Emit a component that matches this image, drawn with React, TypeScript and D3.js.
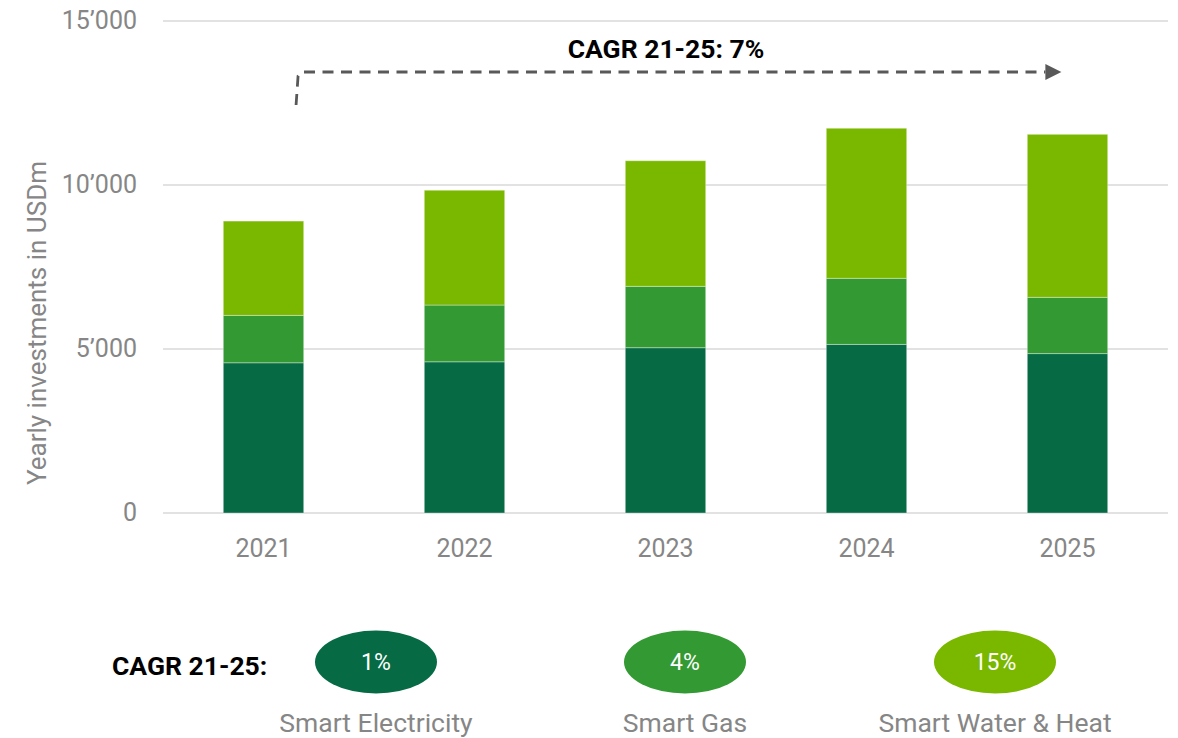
import React from "react";
import * as d3 from "d3";

const years = ["2021", "2022", "2023", "2024", "2025"];
const seriesNames = ["Smart Electricity", "Smart Gas", "Smart Water & Heat"];
const electricity = [4580, 4610, 5040, 5140, 4860];
const gas = [1445, 1730, 1870, 2015, 1715];
const waterHeat = [2875, 3500, 3830, 4575, 4970];
const seriesCagr = ["1%", "4%", "15%"];
const yTicks = [0, 5000, 10000, 15000];
const colors = ["#066b45", "#339933", "#7ab800"];
const totalCagr = "CAGR 21-25: 7%";

const width = 1178;
const height = 738;
const margin = { top: 21, right: 10, bottom: 225, left: 163 };

const fmt = (v: number) => (v >= 1000 ? `${Math.floor(v / 1000)}’${String(v % 1000).padStart(3, "0")}` : String(v));

export default function App() {
  const table = years.map((y, i) => ({
    year: y,
    e: electricity[i],
    g: gas[i],
    w: waterHeat[i],
  }));
  const stack = d3.stack<any>().keys(["e", "g", "w"])(table);

  const x = d3
    .scaleBand()
    .domain(years)
    .range([margin.left, width - margin.right])
    .paddingInner(0.6)
    .paddingOuter(0.3);

  const y = d3
    .scaleLinear()
    .domain([0, 15000])
    .range([height - margin.bottom, margin.top]);

  const grey = "#868686";
  const font = "Roboto, 'Noto Sans', sans-serif";

  // dashed arrow from above 2021 over to 2025
  const bw = x.bandwidth();
  const ax0 = (x("2021") ?? 0) + bw * 0.93;
  const ax1 = (x("2025") ?? 0) + bw * 0.225;
  const ay = 72;

  const legendX = [376, 685, 995];

  return (
    <svg
      width={width}
      height={height}
      style={{ position: "absolute", left: 0, top: 0, fontFamily: font }}
    >
      <rect width={width} height={height} fill="#fff" />
      {yTicks.map((t) => (
        <g key={t}>
          <line
            x1={margin.left}
            x2={width - margin.right}
            y1={y(t)}
            y2={y(t)}
            stroke="#d9d9d9"
            strokeWidth={1.5}
          />
          <text x={137} y={y(t) + 8} textAnchor="end" fontSize={25} fill={grey}>
            {fmt(t)}
          </text>
        </g>
      ))}
      <text
        transform={`translate(46, 323) rotate(-90)`}
        textAnchor="middle"
        fontSize={26}
        fill={grey}
      >
        Yearly investments in USDm
      </text>

      {stack.map((layer, si) => (
        <g key={si} fill={colors[si]}>
          {layer.map((d, i) => (
            <rect
              key={i}
              x={x(years[i])}
              y={y(d[1])}
              width={bw}
              height={y(d[0]) - y(d[1])}
              stroke="#ffffff"
              strokeOpacity={0.35}
              strokeWidth={1}
            />
          ))}
        </g>
      ))}

      {years.map((yr) => (
        <text
          key={yr}
          x={(x(yr) ?? 0) + bw / 2}
          y={557}
          textAnchor="middle"
          fontSize={25}
          fill={grey}
        >
          {yr}
        </text>
      ))}

      <path
        d={`M${ax0 - 2},105 L${ax0},${ay + 4} L${ax0 + 3},${ay} L${ax1},${ay}`}
        fill="none"
        stroke="#595959"
        strokeWidth={2.8}
        strokeDasharray="11,7.5"
      />
      <path d={`M${ax1},${ay - 8} L${ax1 + 16},${ay} L${ax1},${ay + 8} Z`} fill="#595959" />
      <text x={666} y={58} textAnchor="middle" fontSize={26.5} fontWeight="bold" fill="#000">
        {totalCagr}
      </text>

      <text x={112} y={675} fontSize={26.5} fontWeight="bold" fill="#000">
        CAGR 21-25:
      </text>
      {seriesNames.map((name, i) => (
        <g key={name}>
          <ellipse cx={legendX[i]} cy={662} rx={61} ry={31.5} fill={colors[i]} />
          <text x={legendX[i]} y={670} textAnchor="middle" fontSize={23} fill="#fff">
            {seriesCagr[i]}
          </text>
          <text x={legendX[i]} y={732} textAnchor="middle" fontSize={26.5} fill={grey}>
            {name}
          </text>
        </g>
      ))}
    </svg>
  );
}
